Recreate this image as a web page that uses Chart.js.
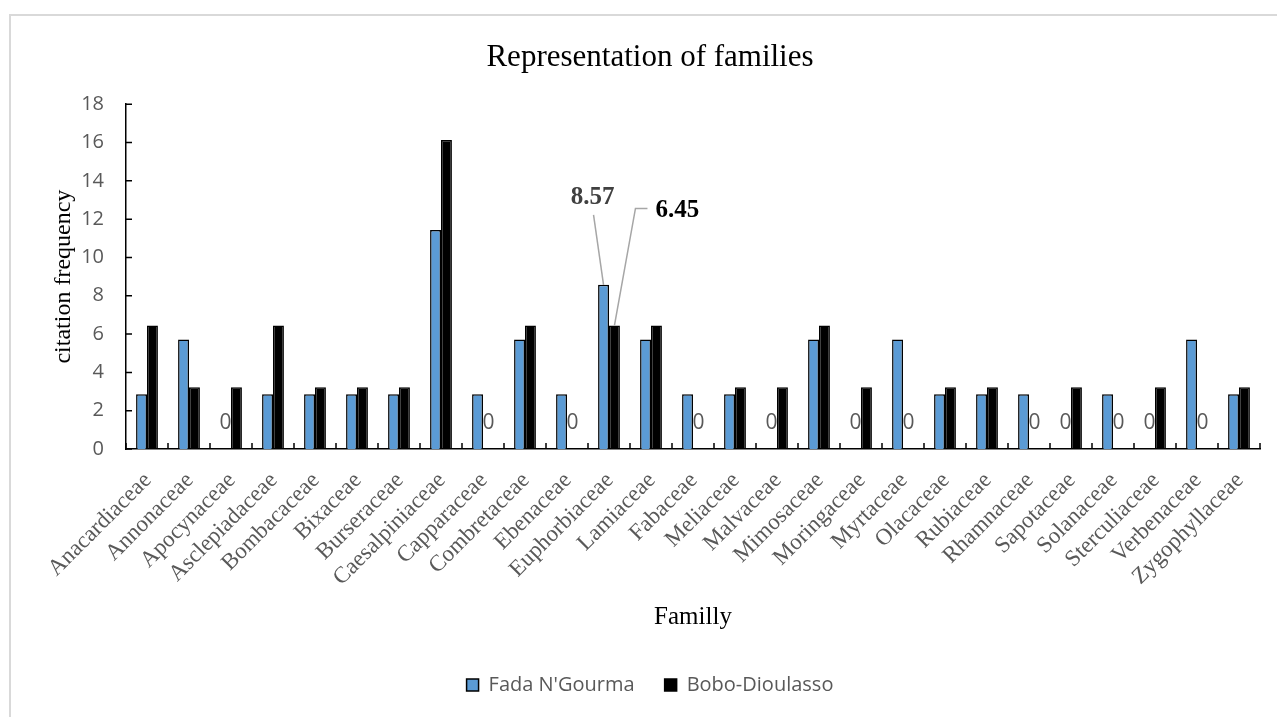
<!DOCTYPE html>
<html>
<head>
<meta charset="utf-8">
<title>Representation of families</title>
<script src="https://cdn.jsdelivr.net/npm/chart.js@4.4.1/dist/chart.umd.min.js"></script>
<style>
  html, body { margin: 0; padding: 0; background: #fff; }
  #wrap { position: relative; width: 1277px; height: 717px; }
</style>
</head>
<body>
<div id="wrap"><canvas id="familyChart"></canvas></div>
<script>
const families = [
  'Anacardiaceae', 'Annonaceae', 'Apocynaceae', 'Asclepiadaceae', 'Bombacaceae',
  'Bixaceae', 'Burseraceae', 'Caesalpiniaceae', 'Capparaceae', 'Combretaceae',
  'Ebenaceae', 'Euphorbiaceae', 'Lamiaceae', 'Fabaceae', 'Meliaceae', 'Malvaceae',
  'Mimosaceae', 'Moringaceae', 'Myrtaceae', 'Olacaceae', 'Rubiaceae', 'Rhamnaceae',
  'Sapotaceae', 'Solanaceae', 'Sterculiaceae', 'Verbenaceae', 'Zygophyllaceae'
];

// citation frequency (%) per family
const fadaFreq = [
  2.86, 5.71, 0, 2.86, 2.86, 2.86, 2.86, 11.43, 2.86, 5.71,
  2.86, 8.57, 5.71, 2.86, 2.86, 0, 5.71, 0, 5.71, 2.86,
  2.86, 2.86, 0, 2.86, 0, 5.71, 2.86
];
const boboFreq = [
  6.45, 3.23, 3.23, 6.45, 3.23, 3.23, 3.23, 16.13, 0, 6.45,
  0, 6.45, 6.45, 0, 3.23, 3.23, 6.45, 3.23, 0, 3.23,
  3.23, 0, 3.23, 0, 3.23, 0, 3.23
];

const yMax = 18;
const yStep = 2;

const SERIF = "'Liberation Serif', 'Times New Roman', serif";
const SANS = "'Open Sans', 'Liberation Sans', sans-serif";
const GREY = '#595959';

// frame, inward tick marks, "0" labels on empty bars and the two call-outs
const extras = {
  id: 'extras',
  beforeDraw(chart) {
    const ctx = chart.ctx;
    ctx.save();
    ctx.strokeStyle = '#d9d9d9';
    ctx.lineWidth = 2;
    ctx.strokeRect(10, 15, chart.width + 20, chart.height + 20);
    ctx.restore();
  },
  afterDatasetsDraw(chart, args, opts) {
    const ctx = chart.ctx;
    const xs = chart.scales.x;
    const ys = chart.scales.y;
    const len = 6;

    ctx.save();
    ctx.strokeStyle = '#000';
    ctx.lineWidth = 1.5;
    ctx.beginPath();
    for (let i = 0; i <= families.length; i++) {
      const px = xs.getPixelForValue(i - 0.5);
      ctx.moveTo(px, ys.bottom);
      ctx.lineTo(px, ys.bottom - len);
    }
    ys.ticks.forEach(t => {
      const py = ys.getPixelForValue(t.value);
      ctx.moveTo(xs.left, py);
      ctx.lineTo(xs.left + len, py);
    });
    ctx.stroke();

    // zero values get a "0" label
    ctx.font = '21px ' + SANS;
    ctx.fillStyle = GREY;
    ctx.textAlign = 'center';
    ctx.textBaseline = 'middle';
    chart.data.datasets.forEach((ds, di) => {
      const meta = chart.getDatasetMeta(di);
      ds.data.forEach((v, i) => {
        if (v === 0) {
          ctx.fillText('0', meta.data[i].x, ys.getPixelForValue(0) - 26);
        }
      });
    });

    // leader-line call-outs
    opts.callouts.forEach(c => {
      const bar = chart.getDatasetMeta(c.dataset).data[c.index];
      const value = chart.data.datasets[c.dataset].data[c.index];
      ctx.strokeStyle = '#a6a6a6';
      ctx.lineWidth = 1.5;
      ctx.beginPath();
      ctx.moveTo(bar.x, bar.y);
      c.path.forEach(p => ctx.lineTo(bar.x + p[0], bar.y + p[1]));
      ctx.stroke();
      ctx.font = 'bold 25px ' + SERIF;
      ctx.fillStyle = c.color;
      ctx.textAlign = c.align;
      ctx.textBaseline = 'middle';
      ctx.fillText(value.toFixed(2), bar.x + c.label[0], bar.y + c.label[1]);
    });
    ctx.restore();
  }
};

new Chart(document.getElementById('familyChart'), {
  type: 'bar',
  data: {
    labels: families,
    datasets: [{
      label: "Fada N'Gourma",
      data: fadaFreq,
      backgroundColor: '#5b9bd5',
      borderColor: '#000',
      borderWidth: 1.5,
      barPercentage: 1,
      categoryPercentage: 0.52
    }, {
      label: 'Bobo-Dioulasso',
      data: boboFreq,
      backgroundColor: '#000',
      borderColor: '#000',
      borderWidth: 1.5,
      barPercentage: 1,
      categoryPercentage: 0.52
    }]
  },
  plugins: [extras],
  options: {
    responsive: true,
    maintainAspectRatio: false,
    animation: false,
    layout: {
      padding: { left: 40, right: 17, top: 0, bottom: 12 }
    },
    plugins: {
      title: {
        display: true,
        text: 'Representation of families',
        color: '#000',
        font: { family: SERIF, size: 31, weight: 'normal' },
        padding: { top: 39, bottom: 28 }
      },
      legend: {
        position: 'bottom',
        labels: {
          color: GREY,
          font: { family: SANS, size: 20 },
          boxWidth: 12,
          boxHeight: 12,
          padding: 30
        }
      },
      tooltip: { enabled: false },
      extras: {
        callouts: [
          { dataset: 0, index: 11, color: '#404040', align: 'center', label: [-11, -87], path: [[-10, -70]] },
          { dataset: 1, index: 11, color: '#000', align: 'left', label: [41, -115], path: [[21, -117], [33, -117]] }
        ]
      }
    },
    scales: {
      x: {
        afterFit(scale) {
          scale.height = 196;
          scale.paddingLeft = 0;
          scale.paddingRight = 0;
        },
        grid: { display: false, drawTicks: false },
        border: { display: true, color: '#000', width: 1.5 },
        ticks: {
          autoSkip: false,
          minRotation: 45,
          maxRotation: 45,
          padding: 18,
          labelOffset: 1,
          color: GREY,
          font: { family: SERIF, size: 23 }
        },
        title: {
          display: true,
          text: 'Familly',
          color: '#000',
          font: { family: SERIF, size: 25 },
          padding: { top: 0, bottom: 13 }
        }
      },
      y: {
        min: 0,
        max: yMax,
        afterFit(scale) { scale.width = 86; },
        grid: { display: false, drawTicks: false },
        border: { display: true, color: '#000', width: 1.5 },
        ticks: {
          stepSize: yStep,
          padding: 22,
          color: GREY,
          font: { family: SANS, size: 20 }
        },
        title: {
          display: true,
          text: 'citation frequency',
          color: '#000',
          font: { family: SERIF, size: 24 },
          padding: { top: 9, bottom: 0 }
        }
      }
    }
  }
});
</script>
</body>
</html>
